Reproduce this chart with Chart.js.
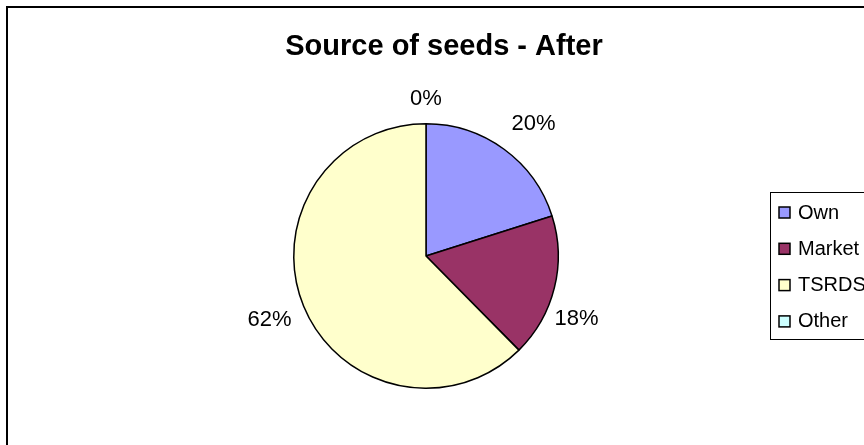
<!DOCTYPE html>
<html>
<head>
<meta charset="utf-8">
<title>Source of seeds - After</title>
<script src="https://cdn.jsdelivr.net/npm/chart.js@4.4.1/dist/chart.umd.min.js"></script>
<style>
  html, body { margin: 0; padding: 0; background: #fff; }
  #wrap { position: relative; width: 864px; height: 445px; }
</style>
</head>
<body>
<div id="wrap"><canvas id="seeds_canvas"></canvas></div>
<script>
// data (share of farmers, %)
var chart_title  = 'Source of seeds - After';
var categories   = ['Own', 'Market', 'TSRDS', 'Other'];
var share_values = [20.1, 17.5, 62.4, 0];
var slice_colors = ['#9999FF', '#993366', '#FFFFCC', '#CCFFFF'];

(function() {
  'use strict';

  var FONT = '"Liberation Sans", Arial, sans-serif';

  //  percentage labels put outside of every slice
  var sliceLabels = {
    id: 'sliceLabels',
    afterDatasetsDraw: function(chart, args, opts) {
      var ctx   = chart.ctx,
          meta  = chart.getDatasetMeta(0),
          data  = chart.data.datasets[0].data,
          total = data.reduce(function(a, b) { return a + b; }, 0);

      ctx.save();
      ctx.font         = '22px ' + FONT;
      ctx.fillStyle    = '#000';
      ctx.textAlign    = 'center';
      ctx.textBaseline = 'middle';

      meta.data.forEach(function(arc, i) {
        var p    = arc.getProps(['x', 'y', 'startAngle', 'endAngle', 'outerRadius'], true),
            mid  = (p.startAngle + p.endAngle) / 2 + opts.nudge[i] * Math.PI / 180,
            dist = p.outerRadius + opts.gap[i],
            pct  = Math.round(data[i] / total * 100) + '%';

        ctx.fillText(pct, p.x + Math.cos(mid) * dist, p.y + Math.sin(mid) * dist);
      });
      ctx.restore();
    }
  };

  //  outer frame, title and the boxed legend
  var frame = {
    id: 'frame',
    beforeDraw: function(chart) {
      var ctx = chart.ctx;
      ctx.save();
      ctx.fillStyle = '#fff';
      ctx.fillRect(0, 0, chart.width, chart.height);
      ctx.restore();
    },
    afterDraw: function(chart) {
      var ctx = chart.ctx;
      ctx.save();

      //  chart border
      ctx.strokeStyle = '#000';
      ctx.lineWidth   = 2;
      ctx.strokeRect(7, 7, chart.width + 20, chart.height + 20);

      //  title
      ctx.fillStyle    = '#000';
      ctx.font         = 'bold 29px ' + FONT;
      ctx.textAlign    = 'center';
      ctx.textBaseline = 'middle';
      ctx.fillText(chart_title, 444, 47);

      //  legend
      ctx.lineWidth = 1;
      ctx.strokeRect(770.5, 192.5, 120, 147);
      ctx.font         = '20px ' + FONT;
      ctx.textAlign    = 'left';
      categories.forEach(function(name, i) {
        var y = 212 + i * 36.3;
        ctx.fillStyle = slice_colors[i];
        ctx.fillRect(779, y - 5, 11, 11);
        ctx.strokeStyle = '#000';
        ctx.lineWidth   = 1.5;
        ctx.strokeRect(779, y - 5, 11, 11);
        ctx.fillStyle = '#000';
        ctx.fillText(name, 798, y + 1);
      });
      ctx.restore();
    }
  };

  var ctx = document.getElementById('seeds_canvas').getContext('2d');

  var seeds_chart = new Chart(ctx, {
    type: 'pie',
    data: {
      labels: categories,
      datasets: [{
        data: share_values,
        backgroundColor: slice_colors,
        borderColor: '#000',
        borderWidth: 1.5
      }]
    },
    options: {
      responsive: true,
      maintainAspectRatio: false,
      animation: false,
      layout: {
        padding: { top: 123, bottom: 56, left: 293, right: 305 }
      },
      plugins: {
        legend: { display: false },
        title: { display: false },
        tooltip: { enabled: false },
        sliceLabels: {
          nudge: [3, 9, 0, 0],
          gap: [38, 31, 37, 25]
        }
      }
    },
    plugins: [frame, sliceLabels]
  });
})();
</script>
</body>
</html>
